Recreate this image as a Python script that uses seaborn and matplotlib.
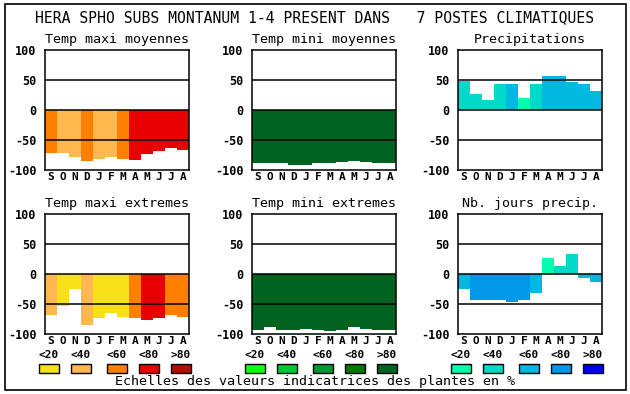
import matplotlib
matplotlib.use('Agg')
import matplotlib.pyplot as plt
from matplotlib.patches import Rectangle
import seaborn as sns
import pandas as pd

# ---------------------------------------------------------------- data
months = ['S', 'O', 'N', 'D', 'J', 'F', 'M', 'A', 'M', 'J', 'J', 'A']
scale_labels = ['<20', '<40', '<60', '<80', '>80']

temp_max_colors = ['#f8e018', '#ffb850', '#ff8000', '#e80000', '#b01000']
temp_min_colors = ['#10ff10', '#00c838', '#009830', '#007800', '#006420']
precip_colors = ['#00ffb0', '#00d8c8', '#00b8e0', '#0098e8', '#0000f0']

maxi_moy = [-72, -72, -78, -85, -82, -78, -82, -83, -73, -68, -63, -67]
maxi_moy_cls = [2, 1, 1, 2, 1, 1, 2, 3, 3, 3, 3, 3]
mini_moy = [-88, -88, -88, -92, -92, -88, -88, -87, -85, -87, -88, -88]
mini_moy_cls = [4] * 12
precip = [49, 27, 17, 43, 43, 20, 43, 57, 57, 47, 43, 32]
precip_cls = [1, 1, 1, 1, 2, 0, 1, 2, 2, 2, 2, 2]
maxi_ext = [-68, -53, -25, -85, -73, -65, -72, -73, -77, -73, -68, -72]
maxi_ext_cls = [1, 0, 0, 1, 0, 0, 0, 2, 3, 3, 2, 2]
mini_ext = [-93, -88, -93, -93, -92, -93, -95, -93, -88, -92, -93, -93]
mini_ext_cls = [4] * 12
nb_jours = [-25, -43, -43, -43, -47, -43, -32, 27, 13, 33, -7, -13]
nb_jours_cls = [2, 3, 3, 3, 3, 3, 2, 0, 1, 1, 2, 2]

title = 'HERA SPHO SUBS MONTANUM 1-4 PRESENT DANS   7 POSTES CLIMATIQUES'
footer = 'Echelles des valeurs indicatrices des plantes en %'

W, H = 630, 394


def fx(px):
    return px / W


def fy(py):
    return 1 - py / H


sns.set_style('white')
plt.rcParams['font.family'] = ['DejaVu Sans Mono']
plt.rcParams['axes.unicode_minus'] = False
plt.rcParams['text.color'] = 'black'
plt.rcParams['xtick.color'] = 'black'
plt.rcParams['ytick.color'] = 'black'
plt.rcParams['axes.labelcolor'] = 'black'

fig = plt.figure(figsize=(W / 100, H / 100), dpi=100)
fig.patch.set_facecolor('white')


def panel(left, top, name, values, classes, colors):
    ax = fig.add_axes([fx(left), fy(top + 120), fx(144), 120 / H])
    keys = [str(i) for i in range(12)]
    df = pd.DataFrame({'m': keys, 'v': values})
    pal = {k: colors[c] for k, c in zip(keys, classes)}
    sns.barplot(data=df, x='m', y='v', hue='m', palette=pal, order=keys,
                width=1, saturation=1, linewidth=0, legend=False, ax=ax)
    for y in (-50, 0, 50):
        ax.axhline(y, color='black', lw=1.1, zorder=5)
    ax.set_xlim(-0.5, 11.5)
    ax.set_ylim(-100, 100)
    ax.set_yticks([-100, -50, 0, 50, 100])
    ax.set_yticklabels(['-100', '-50', '0', '50', '100'],
                       fontsize=8.5, fontweight='bold')
    ax.set_xticks(range(12))
    ax.set_xticklabels(months, fontsize=8, fontweight='bold')
    ax.tick_params(length=0, pad=1.5)
    ax.tick_params(axis='y', pad=6)
    ax.set_xlabel('')
    ax.set_ylabel('')
    for s in ax.spines.values():
        s.set_color('black')
        s.set_linewidth(1.1)
        s.set_visible(True)
    ax.set_title(name, fontsize=9.6, pad=5, color='black')
    return ax


panel(45, 50, 'Temp maxi moyennes', maxi_moy, maxi_moy_cls, temp_max_colors)
panel(252, 50, 'Temp mini moyennes', mini_moy, mini_moy_cls, temp_min_colors)
panel(458, 50, 'Precipitations', precip, precip_cls, precip_colors)
panel(45, 214, 'Temp maxi extremes', maxi_ext, maxi_ext_cls, temp_max_colors)
panel(252, 214, 'Temp mini extremes', mini_ext, mini_ext_cls, temp_min_colors)
panel(458, 214, 'Nb. jours precip.', nb_jours, nb_jours_cls, precip_colors)

# colour scales under each column
box_x = [[39, 71, 107, 139, 171], [245, 277, 313, 345, 377], [451, 483, 519, 551, 583]]
for xs, cols in zip(box_x, [temp_max_colors, temp_min_colors, precip_colors]):
    for x0, c, lab in zip(xs, cols, scale_labels):
        fig.add_artist(Rectangle((fx(x0), fy(373)), fx(20), 9.5 / H,
                                 transform=fig.transFigure, facecolor=c,
                                 edgecolor='black', lw=1))
        fig.text(fx(x0 + 10), fy(355), lab, ha='center', va='center',
                 fontsize=8, fontweight='bold')

fig.text(fx(315), fy(18), title, ha='center', va='center', fontsize=10.6)
fig.text(fx(315), fy(382), footer, ha='center', va='center', fontsize=9.6)

fig.add_artist(Rectangle((fx(4.5), fy(390)), fx(621), 386 / H,
                         transform=fig.transFigure, fill=False,
                         edgecolor='black', lw=1.2))

fig.savefig('out.png', dpi=100)
